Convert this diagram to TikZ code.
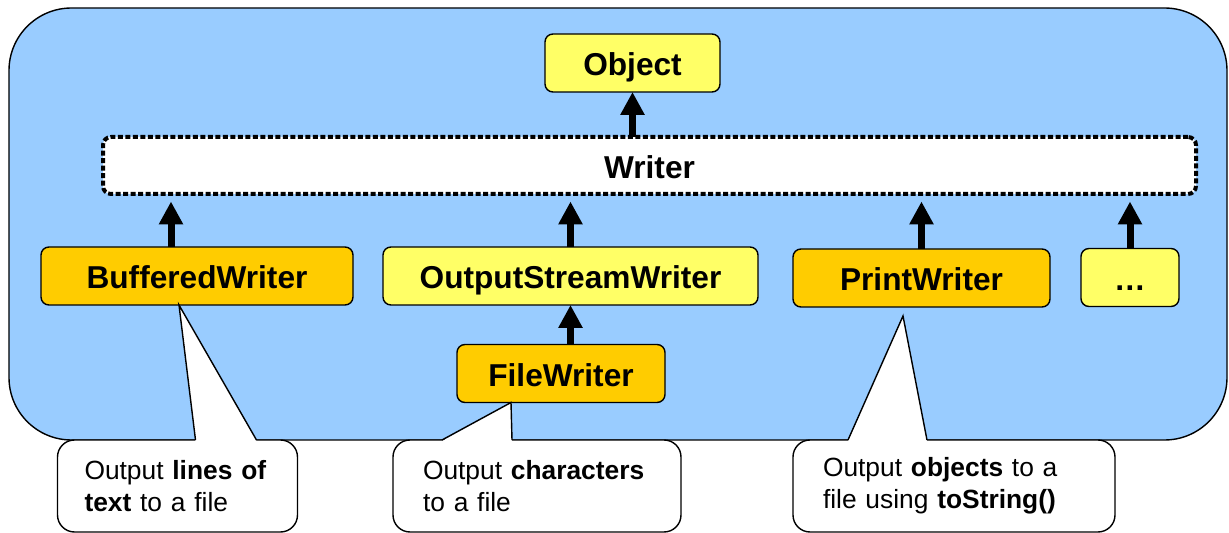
\documentclass[tikz,border=0pt]{standalone}
\usepackage{fontspec}
\setmainfont{Liberation Sans}
\usepackage{tikz}
\usetikzlibrary{arrows.meta}
\definecolor{FrameBlue}{HTML}{99CCFF}
\definecolor{ClassYellow}{HTML}{FFFF66}
\definecolor{ClassOrange}{HTML}{FFCC00}

\begin{document}
\begin{tikzpicture}[cls/.style={font=\fontsize{18}{21.6}\selectfont\bfseries, rectangle, rounded corners=0.16cm, draw, line width=0.8pt, minimum height=1.16cm, text height=0.66cm, text depth=0.14cm, inner sep=0pt, outer sep=0pt}, note/.style={font=\fontsize{15}{18}\selectfont, rectangle, rounded corners=0.34cm, draw, line width=0.8pt, fill=white, align=left, minimum height=1.84cm, inner xsep=0.6cm, outer sep=0pt}, inherit/.style={-{Triangle[width=0.46cm,length=0.46cm]}, line width=0.14cm}]
    \useasboundingbox (0,0) rectangle (24.58,-10.66);
    % frame
    \draw[fill=FrameBlue, line width=0.8pt, rounded corners=1.25cm] (0.18,-0.16) rectangle (24.54,-8.8);

    \node[cls, fill=ClassYellow, minimum width=3.5cm] (object) at (12.65,-1.26) {Object};
    \node[cls, fill=white, minimum width=21.86cm, minimum height=1.14cm, line width=0.08cm, dash pattern=on 0.1cm off 0.05cm] (writer) at (12.99,-3.31) {Writer};
    \node[cls, fill=ClassOrange, minimum width=6.24cm] (buffered) at (3.94,-5.52) {BufferedWriter};
    \node[cls, fill=ClassYellow, minimum width=7.5cm] (osw) at (11.41,-5.52) {OutputStreamWriter};
    \node[cls, fill=ClassOrange, minimum width=5.14cm] (print) at (18.43,-5.56) {PrintWriter};
    \node[cls, fill=ClassYellow, minimum width=1.96cm] (more) at (22.6,-5.55) {…};
    \node[cls, fill=ClassOrange, minimum width=4.16cm] (file) at (11.22,-7.47) {FileWriter};

    \draw[inherit] (writer.north -| object) -- (object.south);
    \draw[inherit, shorten >=0.15cm] ([xshift=-0.52cm]buffered.north) -- ([xshift=-0.52cm]buffered.north |- writer.south);
    \draw[inherit, shorten >=0.15cm] (osw.north) -- (osw.north |- writer.south);
    \draw[inherit, shorten >=0.15cm] (print.north) -- (print.north |- writer.south);
    \draw[inherit, shorten >=0.15cm] (more.north) -- (more.north |- writer.south);
    \draw[inherit] (file.north -| osw) -- (osw.south);

    % callouts
    \node[note, text width=3.72cm, inner xsep=0.54cm] (bufnote) at (3.55,-9.72) {Output \textbf{lines of}\\ \textbf{text} to a file};
    \node[note, text width=4.56cm] (filenote) at (10.74,-9.72) {Output \textbf{characters}\\ to a file};
    \node[note, text width=5.24cm] (printnote) at (19.08,-9.72) {Output \textbf{objects} to a\\ file using \textbf{toString()}};

    \coordinate (buftip) at ([xshift=-0.36cm]buffered.south);
    \coordinate (filetip) at ([xshift=-1.0cm]file.south);
    \coordinate (printtip) at ([xshift=-0.37cm,yshift=-0.18cm]print.south);

    \foreach \n/\a/\b/\t in {bufnote/2.76/3.98/buftip, filenote/0.98/2.38/filetip, printnote/1.1/2.68/printtip}{
        \fill[white] ([xshift=\a cm, yshift=-0.6pt]\n.north west) -- (\t) -- ([xshift=\b cm, yshift=-0.6pt]\n.north west) -- cycle;
        \draw[line width=0.8pt] ([xshift=\a cm]\n.north west) -- (\t) -- ([xshift=\b cm]\n.north west);
    }
\end{tikzpicture}
\end{document}
